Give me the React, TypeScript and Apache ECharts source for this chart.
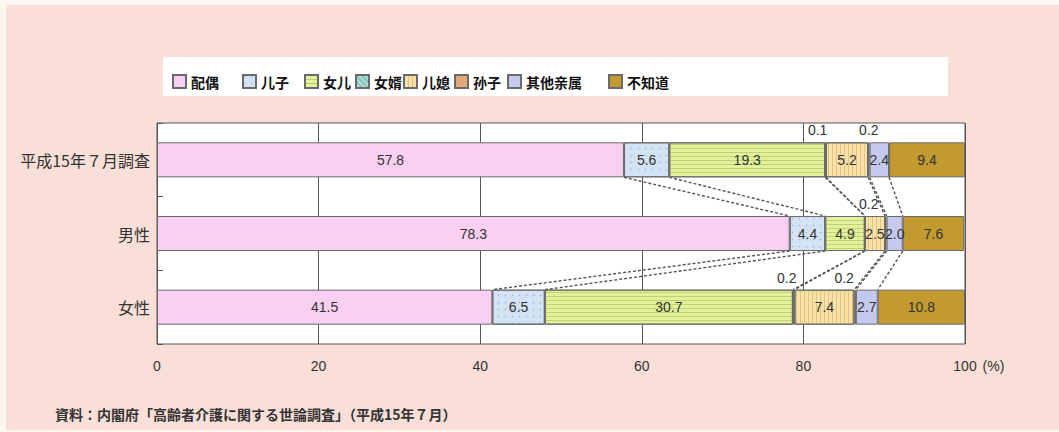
import React, { useEffect, useRef } from "react";
import * as echarts from "echarts";

const categories = ["平成15年７月調査", "男性", "女性"];
const seriesNames = ["配偶", "儿子", "女儿", "女婿", "儿媳", "孙子", "其他亲属", "不知道"];
const spouse = [57.8, 78.3, 41.5];
const son = [5.6, 4.4, 6.5];
const daughter = [19.3, 4.9, 30.7];
const sonInLaw = [0.1, 0.0, 0.2];
const daughterInLaw = [5.2, 2.5, 7.4];
const grandchild = [0.2, 0.2, 0.2];
const otherRelatives = [2.4, 2.0, 2.7];
const unknown = [9.4, 7.6, 10.8];
const xTicks = [0, 20, 40, 60, 80, 100];
const sourceNote = "資料：内閣府「高齢者介護に関する世論調査」（平成15年７月）";

const allValues = [spouse, son, daughter, sonInLaw, daughterInLaw, grandchild, otherRelatives, unknown];

// styling (not data)
const colors = ["#f9d0f1", "#d3e3f3", "#e2f19a", "#a8dcd4", "#f8e2a8", "#e5a878", "#c5c9ee", "#c29a30"];
const decals: any[] = [
  null,
  { symbol: "circle", symbolSize: 0.5, dashArrayX: [[3, 4]], dashArrayY: [3, 4], color: "rgba(110,140,180,0.55)" },
  { symbol: "rect", symbolSize: 1, dashArrayX: [1, 0], dashArrayY: [1, 3], color: "rgba(150,170,70,0.45)" },
  { symbol: "rect", symbolSize: 1, dashArrayX: [1, 0], dashArrayY: [1, 3], rotation: Math.PI / 4, color: "rgba(60,140,130,0.5)" },
  { symbol: "rect", symbolSize: 1, dashArrayX: [1, 3], dashArrayY: [1, 0], color: "rgba(200,160,90,0.45)" },
  null,
  null,
  null,
];
const legendLefts = [167, 237, 299, 350, 398, 449, 502, 603];
// label offsets for small values shown above the bar: key "series-category"
const smallLabelOffsets: Record<string, number[]> = {
  "3-0": [-8, 0],
  "5-0": [0, 0],
  "5-1": [-17, 0],
  "3-2": [-7, 0],
  "5-2": [-11, 0],
};
const BAR_W = 35;
const NUM_FONT = "Liberation Sans, Arial, sans-serif";

export default function App() {
  const ref = useRef<HTMLDivElement>(null);
  useEffect(() => {
    document.body.style.margin = "0";
    if (!ref.current) return;
    const chart = echarts.init(ref.current, null, { renderer: "svg" });

    const barSeries = seriesNames.map((name, si) => ({
      name,
      type: "bar",
      stack: "total",
      barWidth: BAR_W,
      itemStyle: {
        color: colors[si],
        borderColor: "#6a6a6a",
        borderWidth: 1,
        decal: decals[si] || undefined,
      },
      label: {
        show: true,
        position: "inside",
        color: "#333",
        fontSize: 14,
        fontFamily: NUM_FONT,
        formatter: (p: any) => (p.value >= 1 ? p.value.toFixed(1) : ""),
      },
      data: allValues[si].map((v, ci) => {
        const key = `${si}-${ci}`;
        if (v > 0 && v < 1 && smallLabelOffsets[key]) {
          return {
            value: v,
            label: {
              show: true,
              position: "top",
              distance: 5,
              offset: smallLabelOffsets[key],
              color: "#333",
              fontSize: 14,
              fontFamily: NUM_FONT,
              formatter: (p: any) => p.value.toFixed(1),
            },
          };
        }
        return v;
      }),
    }));

    // cumulative boundaries for connector lines
    const cum = categories.map((_, ci) => {
      const out: number[] = [];
      let s = 0;
      for (let si = 0; si < allValues.length - 1; si++) {
        s += allValues[si][ci];
        out.push(s);
      }
      return out;
    });
    const connectorData: number[][] = [];
    for (let ci = 0; ci < categories.length - 1; ci++) {
      for (let k = 0; k < cum[ci].length; k++) {
        connectorData.push([cum[ci][k], ci, cum[ci + 1][k], ci + 1]);
      }
    }

    const legends = seriesNames.map((name, i) => ({
      data: [name],
      left: legendLefts[i],
      top: 69,
      itemWidth: 13,
      itemHeight: 13,
      itemGap: 5,
      icon: "rect",
      textStyle: {
        color: "#111",
        fontSize: 14,
        fontWeight: "bold",
        fontFamily: "Noto Sans CJK SC, sans-serif",
      },
    }));

    chart.setOption({
      animation: false,
      backgroundColor: "#fcf6f1",
      graphic: [
        { type: "rect", left: 6, top: 5, shape: { width: 1053, height: 425 }, style: { fill: "#f9dfd7" }, z: -10 },
        { type: "rect", left: 163, top: 57, shape: { width: 785, height: 39 }, style: { fill: "#ffffff" }, z: -5 },
      ],
      title: {
        text: sourceNote,
        left: 50,
        top: 402,
        textStyle: { fontSize: 14, fontWeight: "bold", color: "#333", fontFamily: "Noto Sans CJK JP, sans-serif" },
      },
      legend: legends,
      grid: {
        left: 157,
        right: 94,
        top: 123,
        bottom: 88,
        show: true,
        backgroundColor: "#ffffff",
        borderColor: "#555",
        borderWidth: 1,
      },
      xAxis: {
        type: "value",
        min: 0,
        max: 100,
        interval: 20,
        name: "(%)",
        nameLocation: "end",
        nameGap: 14,
        nameTextStyle: {
          color: "#333",
          fontSize: 14,
          fontFamily: NUM_FONT,
          verticalAlign: "top",
          padding: [15, 0, 0, 0],
        },
        axisLine: { show: false },
        axisTick: { show: false },
        axisLabel: {
          color: "#333",
          fontSize: 14,
          margin: 15,
          fontFamily: NUM_FONT,
          formatter: (v: number) => (xTicks.includes(v) ? String(v) : ""),
        },
        splitLine: { show: true, lineStyle: { color: "#555", width: 1 } },
      },
      yAxis: {
        type: "category",
        data: categories,
        inverse: true,
        axisLine: { show: true, lineStyle: { color: "#555" } },
        axisTick: { show: true, inside: true, length: 6, lineStyle: { color: "#555" } },
        axisLabel: {
          color: "#333",
          fontSize: 16,
          margin: 7,
          fontFamily: "Noto Sans CJK JP, sans-serif",
        },
      },
      series: [
        ...barSeries,
        {
          type: "custom",
          name: "connectors",
          silent: true,
          z: 5,
          encode: { x: [0, 2], y: [1, 3] },
          data: connectorData,
          renderItem: (params: any, api: any) => {
            const p1 = api.coord([api.value(0), api.value(1)]);
            const p2 = api.coord([api.value(2), api.value(3)]);
            return {
              type: "line",
              shape: { x1: p1[0], y1: p1[1] + BAR_W / 2, x2: p2[0], y2: p2[1] - BAR_W / 2 },
              style: { stroke: "#555", lineWidth: 1.4, lineDash: [3, 2] },
            };
          },
        },
      ],
    } as any);

    return () => chart.dispose();
  }, []);
  return <div ref={ref} style={{ width: 1059, height: 432 }} />;
}
